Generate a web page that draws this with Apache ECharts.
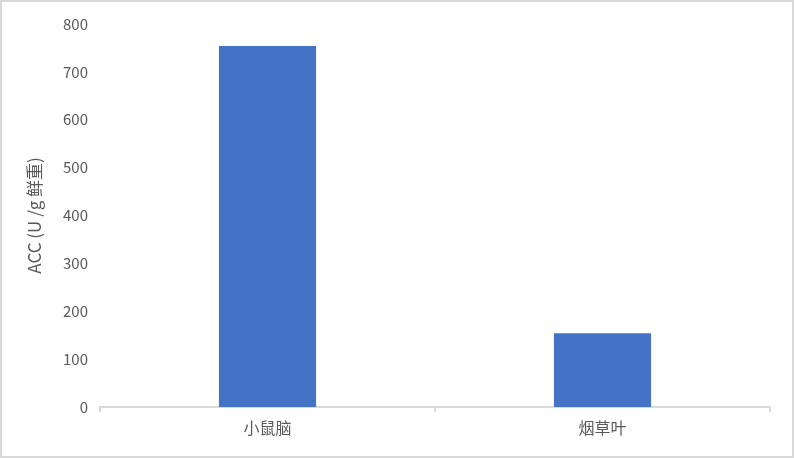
<!DOCTYPE html>
<html>
<head>
<meta charset="utf-8">
<script src="https://cdn.jsdelivr.net/npm/echarts@6/dist/echarts.min.js"></script>
<style>
  html, body { margin: 0; padding: 0; background: #fff; }
  #main { width: 790px; height: 454px; border: 2px solid #d9d9d9; }
</style>
</head>
<body>
<div id="main"></div>
<script>
const categories = ['小鼠脑', '烟草叶'];
const accValues = [754, 154];
const yTicks = { min: 0, max: 800, interval: 100 };

const chart = echarts.init(document.getElementById('main'));
const textColor = '#595959';
const fontFamily = '"Noto Sans CJK SC", "Noto Sans", sans-serif';

chart.setOption({
    animation: false,
    grid: { left: 98, right: 22, top: 22, bottom: 49 },
    xAxis: {
        type: 'category',
        data: categories,
        axisLine: { lineStyle: { color: '#d9d9d9', width: 2 } },
        axisTick: { show: true, length: 5, lineStyle: { color: '#d9d9d9', width: 2 } },
        axisLabel: { color: textColor, fontSize: 16, margin: 13, fontFamily: fontFamily }
    },
    yAxis: {
        type: 'value',
        min: yTicks.min,
        max: yTicks.max,
        interval: yTicks.interval,
        name: 'ACC (U /g 鲜重)',
        nameLocation: 'middle',
        nameGap: 57,
        nameTextStyle: { color: textColor, fontSize: 17, fontFamily: fontFamily },
        axisLine: { show: false },
        axisTick: { show: false },
        splitLine: { show: false },
        axisLabel: { color: textColor, fontSize: 15, margin: 12, fontFamily: fontFamily }
    },
    series: [{
        type: 'bar',
        data: accValues,
        barWidth: '29%',
        itemStyle: { color: '#4472C4' }
    }]
});
</script>
</body>
</html>
